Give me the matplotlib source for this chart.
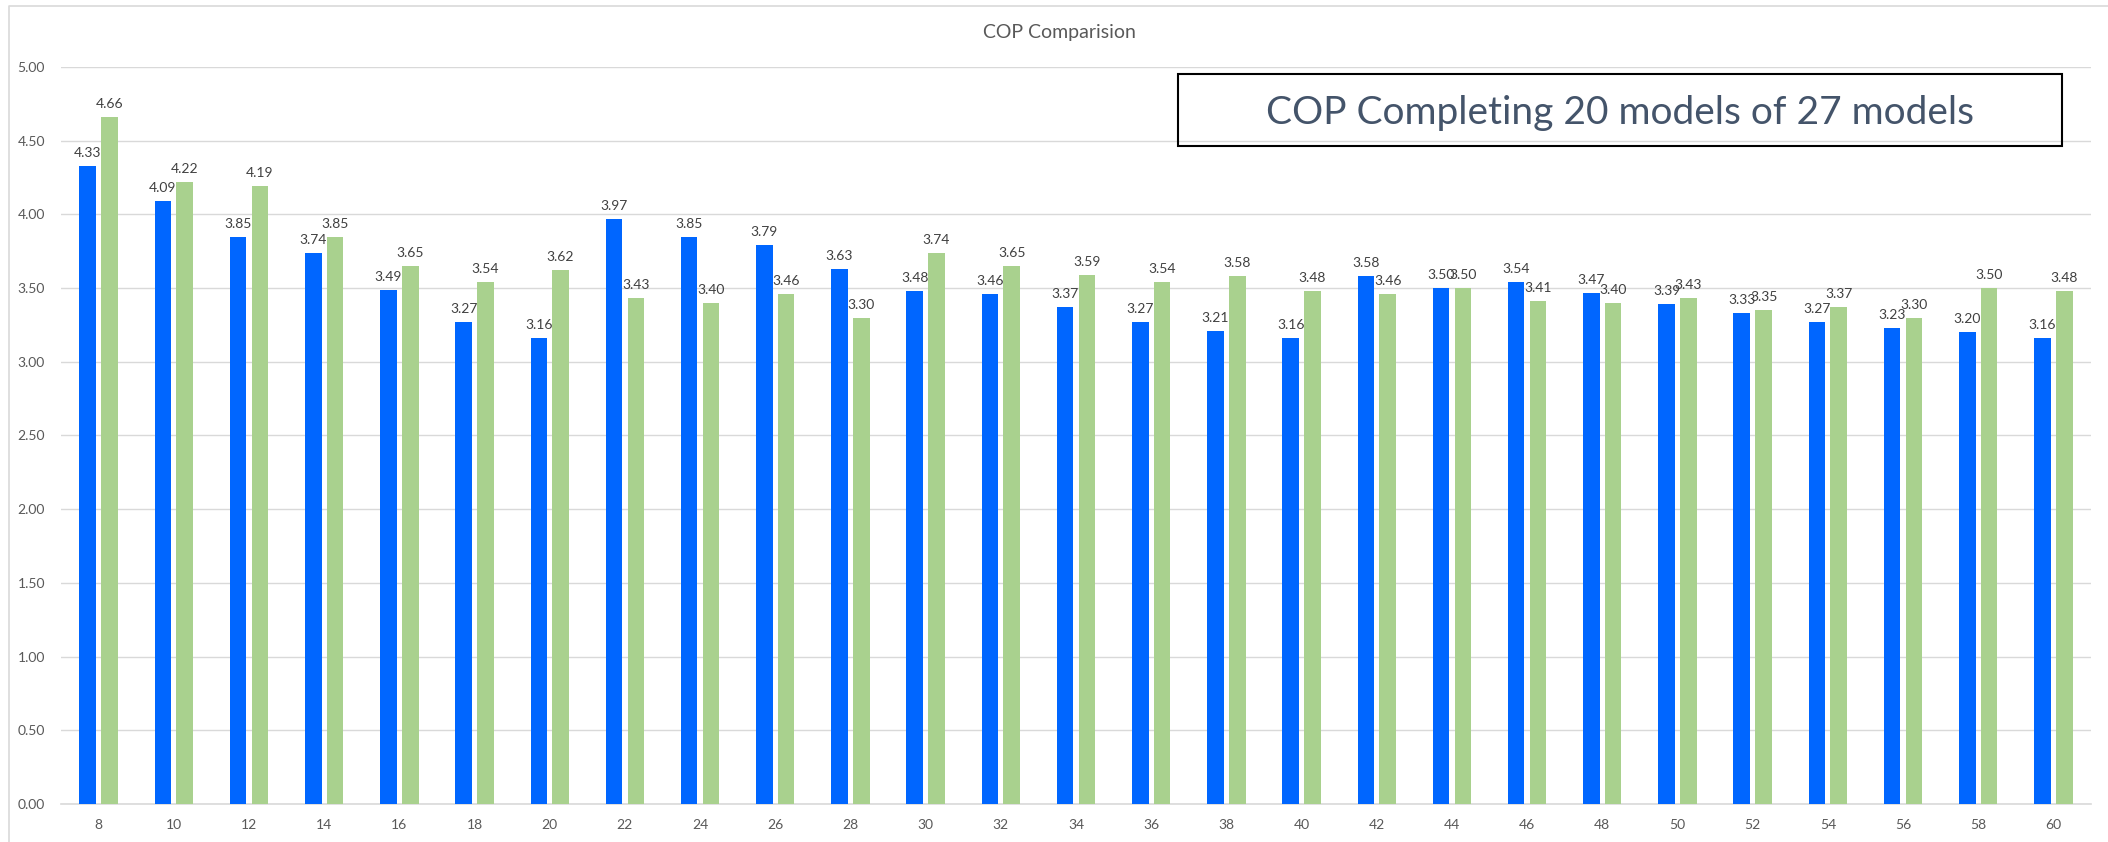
import numpy as np
import matplotlib
matplotlib.use("Agg")
import matplotlib.pyplot as plt
from matplotlib.patches import Rectangle
from matplotlib.lines import Line2D

plt.rcParams['font.family'] = ['Lato', 'DejaVu Sans']

# data
sizes = [8, 10, 12, 14, 16, 18, 20, 22, 24, 26, 28, 30, 32, 34,
         36, 38, 40, 42, 44, 46, 48, 50, 52, 54, 56, 58, 60]
cop_blue = [4.33, 4.09, 3.85, 3.74, 3.49, 3.27, 3.16, 3.97, 3.85, 3.79, 3.63, 3.48, 3.46, 3.37,
            3.27, 3.21, 3.16, 3.58, 3.50, 3.54, 3.47, 3.39, 3.33, 3.27, 3.23, 3.20, 3.16]
cop_green = [4.66, 4.22, 4.19, 3.85, 3.65, 3.54, 3.62, 3.43, 3.40, 3.46, 3.30, 3.74, 3.65, 3.59,
             3.54, 3.58, 3.48, 3.46, 3.50, 3.41, 3.40, 3.43, 3.35, 3.37, 3.30, 3.50, 3.48]
yticks = [0, 0.5, 1, 1.5, 2, 2.5, 3, 3.5, 4, 4.5, 5]

W, H = 2108, 842
fig = plt.figure(figsize=(W/100, H/100), dpi=100)
ax = fig.add_axes([61/W, 38/H, 2030/W, 737/H])

x = np.arange(len(sizes))
bw = 0.22
b1 = ax.bar(x - 0.145, cop_blue, bw, color="#0066FF", zorder=3)
b2 = ax.bar(x + 0.145, cop_green, bw, color="#A9D18E", zorder=3)

for bars, vals in [(b1, cop_blue), (b2, cop_green)]:
    for r, v in zip(bars, vals):
        ax.annotate(f"{v:.2f}", (r.get_x() + r.get_width()/2, v), xytext=(0, 5),
                    textcoords="offset points", ha="center", va="bottom",
                    fontsize=10, color="#404040")

ax.set_xlim(-0.5, len(sizes) - 0.5)
ax.set_ylim(0, 5)
ax.set_xticks(x)
ax.set_xticklabels([str(s) for s in sizes])
ax.set_yticks(yticks)
ax.set_yticklabels([f"{t:.2f}" for t in yticks])
ax.tick_params(axis="both", length=0, labelsize=10, labelcolor="#595959")
ax.tick_params(axis="x", pad=11)
ax.tick_params(axis="y", pad=11.5)
ax.grid(axis="y", color="#D9D9D9", lw=1, zorder=0)
for s in ["top", "right", "left"]:
    ax.spines[s].set_visible(False)
ax.spines["bottom"].set_color("#D9D9D9")
ax.spines["bottom"].set_linewidth(1.2)

fig.text(1059/W, 1 - 38/H, "COP Comparision", ha="center", va="baseline",
         fontsize=14, color="#595959")

# note box
fig.add_artist(Rectangle((1178/W, 1 - 146/H), (2062 - 1178)/W, 72/H,
                         transform=fig.transFigure, fill=False, ec="black", lw=1.5))
fig.text(1620/W, 1 - 124/H, "COP Completing 20 models of 27 models", ha="center",
         va="baseline", fontsize=28, color="#44546A")

# chart border (left and top visible)
fig.add_artist(Line2D([9/W, 9/W, 1], [0, 1 - 6/H, 1 - 6/H], transform=fig.transFigure,
                      color="#D9D9D9", lw=1.2))

fig.savefig("out.png", dpi=100, facecolor="white")
